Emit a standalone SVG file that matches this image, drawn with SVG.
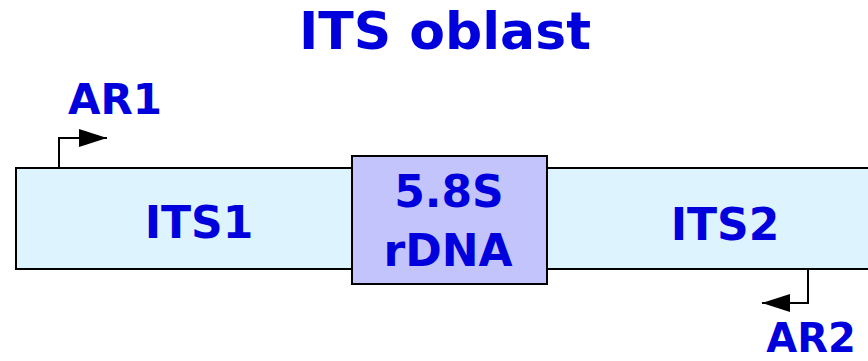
<svg xmlns="http://www.w3.org/2000/svg" width="868" height="361" viewBox="0 0 868 361">
<style>
.t{font-family:"DejaVu Sans","Liberation Sans",sans-serif;font-weight:bold;fill:#0000DD;text-anchor:middle}
.ln{fill:none;stroke:#000;stroke-width:2}
</style>
<defs>
<marker id="ah" viewBox="0 0 28 18" refX="28" refY="9" markerWidth="28" markerHeight="18" markerUnits="userSpaceOnUse" orient="auto">
<path d="M0,0 L28,9 L0,18 Z" fill="#000"/>
</marker>
</defs>
<rect width="868" height="361" fill="#fff"/>
<text class="t" x="445" y="49" font-size="52">ITS oblast</text>
<g id="bar">
<rect x="16" y="168" width="870" height="101" fill="#DDF3FD" stroke="#000" stroke-width="2"/>
<text class="t" x="199" y="238" font-size="44">ITS1</text>
<text class="t" x="725" y="240" font-size="44">ITS2</text>
</g>
<g id="rdna">
<rect x="352" y="156" width="195" height="128" fill="#C4C4FC" stroke="#000" stroke-width="2"/>
<text class="t" x="449" y="207" font-size="44">5.8S</text>
<text class="t" x="448" y="266" font-size="44">rDNA</text>
</g>
<g id="connectors">
<path class="ln" d="M59,168 V138 H107" marker-end="url(#ah)"/>
<path class="ln" d="M808,269 V303 H762" marker-end="url(#ah)"/>
</g>
<g id="ar1"><text class="t" x="115" y="114" font-size="42">AR1</text></g>
<g id="ar2"><text class="t" x="811" y="352" font-size="40">AR2</text></g>
</svg>
